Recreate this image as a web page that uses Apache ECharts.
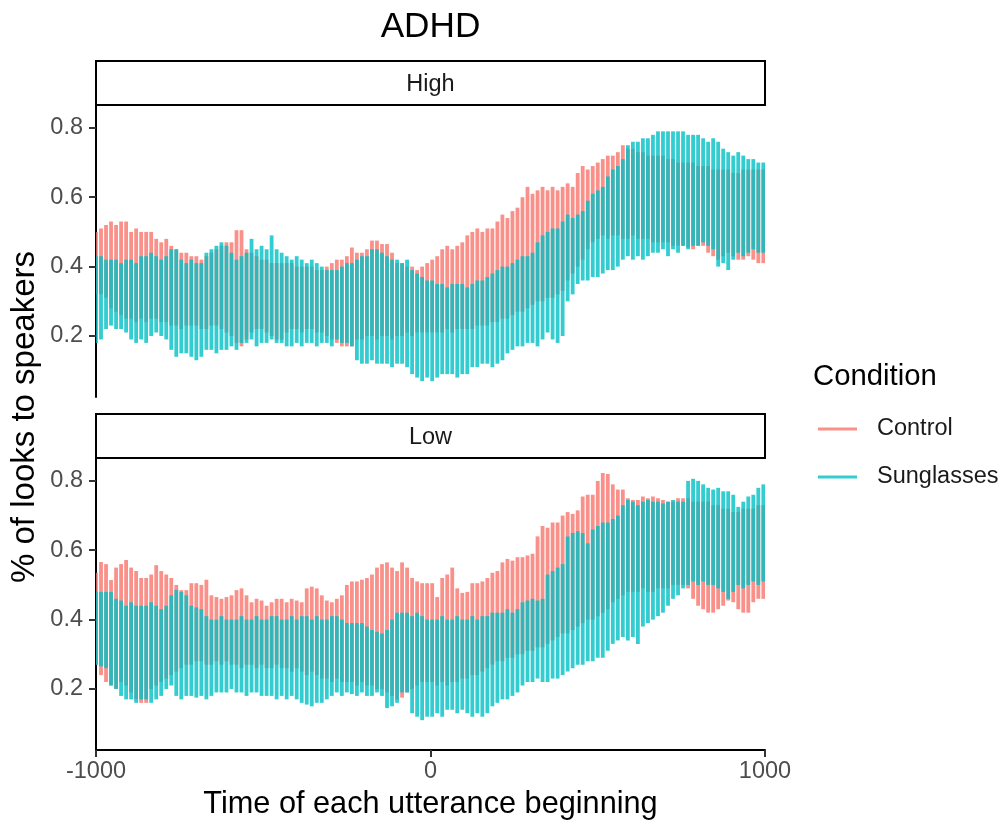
<!DOCTYPE html>
<html>
<head>
<meta charset="utf-8">
<script src="https://cdn.jsdelivr.net/npm/echarts@6/dist/echarts.min.js"></script>
<style>html,body{margin:0;padding:0;background:#fff;}#chart{width:1007px;height:825px;}</style>
</head>
<body>
<div id="chart"></div>
<script>
// time bins (ms) relative to utterance beginning
const times = [-1000,-985,-970,-955,-940,-925,-910,-895,-880,-865,
-850,-835,-820,-805,-790,-775,-760,-745,-730,-715,
-700,-685,-670,-655,-640,-625,-610,-595,-580,-565,
-550,-535,-520,-505,-490,-475,-460,-445,-430,-415,
-400,-385,-370,-355,-340,-325,-310,-295,-280,-265,
-250,-235,-220,-205,-190,-175,-160,-145,-130,-115,
-100,-85,-70,-55,-40,-25,-10,5,20,35,
50,65,80,95,110,125,140,155,170,185,
200,215,230,245,260,275,290,305,320,335,
350,365,380,395,410,425,440,455,470,485,
500,515,530,545,560,575,590,605,620,635,
650,665,680,695,710,725,740,755,770,785,
800,815,830,845,860,875,890,905,920,935,
950,965,980,995];

const facets = ['High', 'Low'];
const conditions = ['Control', 'Sunglasses'];

// High panel
const highControlUpper = [0.50,0.51,0.52,0.53,0.52,0.53,0.53,0.50,0.51,0.50,
0.50,0.50,0.48,0.47,0.48,0.46,0.45,0.44,0.44,0.43,
0.43,0.42,0.43,0.44,0.45,0.46,0.47,0.47,0.505,0.505,
0.45,0.44,0.43,0.42,0.42,0.41,0.41,0.41,0.41,0.41,
0.40,0.40,0.40,0.40,0.39,0.39,0.40,0.41,0.42,0.42,
0.43,0.455,0.44,0.44,0.45,0.475,0.475,0.465,0.465,0.44,
0.41,0.41,0.40,0.40,0.39,0.40,0.41,0.42,0.43,0.45,
0.46,0.45,0.46,0.47,0.49,0.50,0.51,0.50,0.51,0.51,
0.53,0.55,0.54,0.56,0.57,0.60,0.63,0.61,0.62,0.63,
0.62,0.63,0.62,0.63,0.64,0.63,0.67,0.69,0.68,0.69,
0.70,0.71,0.72,0.72,0.73,0.75,0.74,0.74,0.73,0.73,
0.72,0.72,0.72,0.72,0.71,0.71,0.70,0.70,0.70,0.70,
0.69,0.69,0.69,0.68,0.68,0.68,0.68,0.67,0.67,0.68,
0.68,0.68,0.68,0.68];
const highControlLower = [0.32,0.32,0.31,0.28,0.27,0.26,0.25,0.25,0.24,0.25,
0.24,0.25,0.25,0.24,0.24,0.23,0.23,0.22,0.23,0.23,
0.23,0.22,0.22,0.23,0.23,0.22,0.21,0.20,0.18,0.17,
0.19,0.21,0.22,0.22,0.21,0.20,0.19,0.19,0.21,0.22,
0.22,0.21,0.22,0.22,0.21,0.21,0.20,0.19,0.18,0.17,
0.17,0.17,0.19,0.19,0.20,0.20,0.19,0.20,0.20,0.19,
0.20,0.20,0.21,0.20,0.21,0.21,0.21,0.21,0.21,0.21,
0.22,0.21,0.22,0.22,0.22,0.22,0.23,0.23,0.23,0.24,
0.24,0.25,0.25,0.26,0.27,0.27,0.28,0.29,0.30,0.30,
0.31,0.31,0.32,0.33,0.36,0.38,0.40,0.42,0.45,0.47,
0.48,0.49,0.48,0.49,0.49,0.48,0.48,0.49,0.48,0.48,
0.48,0.47,0.47,0.47,0.47,0.46,0.46,0.46,0.455,0.45,
0.46,0.46,0.44,0.43,0.42,0.43,0.44,0.43,0.42,0.42,
0.43,0.42,0.41,0.41];
const highSungUpper = [0.43,0.43,0.42,0.42,0.42,0.41,0.42,0.42,0.41,0.43,
0.43,0.44,0.43,0.42,0.43,0.45,0.45,0.42,0.41,0.42,
0.41,0.41,0.44,0.45,0.46,0.47,0.46,0.44,0.42,0.43,
0.44,0.48,0.45,0.46,0.45,0.49,0.45,0.44,0.43,0.42,
0.43,0.42,0.41,0.42,0.41,0.40,0.39,0.39,0.39,0.40,
0.41,0.41,0.42,0.43,0.43,0.45,0.45,0.44,0.43,0.42,
0.42,0.41,0.42,0.39,0.38,0.37,0.36,0.36,0.35,0.35,
0.34,0.35,0.35,0.35,0.34,0.35,0.36,0.36,0.37,0.38,
0.39,0.40,0.40,0.41,0.42,0.43,0.43,0.44,0.47,0.49,
0.50,0.51,0.51,0.53,0.55,0.54,0.55,0.56,0.59,0.61,
0.62,0.63,0.66,0.68,0.69,0.71,0.75,0.76,0.76,0.77,
0.77,0.78,0.79,0.79,0.79,0.79,0.79,0.79,0.78,0.78,
0.78,0.77,0.76,0.77,0.76,0.74,0.73,0.72,0.73,0.72,
0.71,0.71,0.70,0.70];
const highSungLower = [0.18,0.19,0.22,0.23,0.22,0.22,0.21,0.19,0.18,0.19,
0.18,0.20,0.21,0.20,0.19,0.16,0.14,0.15,0.15,0.14,
0.13,0.14,0.16,0.16,0.15,0.16,0.16,0.17,0.16,0.18,
0.18,0.19,0.17,0.18,0.18,0.19,0.18,0.18,0.17,0.17,
0.18,0.17,0.18,0.18,0.17,0.18,0.18,0.17,0.19,0.18,
0.18,0.17,0.13,0.12,0.12,0.13,0.12,0.12,0.12,0.11,
0.12,0.12,0.11,0.09,0.08,0.07,0.08,0.07,0.08,0.09,
0.09,0.09,0.08,0.09,0.09,0.11,0.11,0.12,0.12,0.11,
0.12,0.13,0.15,0.16,0.17,0.17,0.18,0.18,0.17,0.19,
0.21,0.19,0.18,0.20,0.30,0.32,0.35,0.36,0.36,0.37,
0.37,0.38,0.39,0.39,0.40,0.42,0.43,0.42,0.43,0.42,
0.43,0.44,0.44,0.45,0.43,0.45,0.44,0.46,0.45,0.46,
0.46,0.47,0.46,0.45,0.40,0.41,0.39,0.42,0.44,0.43,
0.44,0.45,0.44,0.44];

// Low panel
const lowControlUpper = [0.535,0.566,0.56,0.514,0.55,0.56,0.572,0.55,0.54,0.52,
0.52,0.53,0.557,0.54,0.53,0.52,0.50,0.485,0.485,0.505,
0.505,0.50,0.515,0.47,0.465,0.46,0.465,0.47,0.485,0.49,
0.47,0.45,0.46,0.455,0.44,0.45,0.46,0.46,0.45,0.46,
0.455,0.45,0.49,0.495,0.49,0.47,0.455,0.45,0.46,0.47,
0.50,0.51,0.51,0.515,0.52,0.53,0.55,0.56,0.565,0.55,
0.54,0.565,0.55,0.52,0.51,0.505,0.505,0.505,0.465,0.52,
0.53,0.55,0.49,0.477,0.48,0.505,0.505,0.51,0.52,0.535,
0.54,0.565,0.575,0.57,0.58,0.58,0.585,0.59,0.64,0.67,
0.665,0.68,0.68,0.70,0.71,0.705,0.715,0.755,0.76,0.76,
0.80,0.823,0.82,0.79,0.775,0.775,0.75,0.745,0.745,0.755,
0.75,0.755,0.75,0.745,0.74,0.74,0.75,0.75,0.75,0.74,
0.74,0.74,0.74,0.73,0.73,0.72,0.72,0.71,0.71,0.72,
0.72,0.72,0.73,0.73];
const lowControlLower = [0.27,0.24,0.22,0.21,0.20,0.22,0.21,0.19,0.17,0.16,
0.16,0.20,0.21,0.22,0.23,0.24,0.25,0.26,0.27,0.27,
0.28,0.28,0.27,0.27,0.28,0.27,0.28,0.27,0.27,0.26,
0.27,0.27,0.26,0.27,0.26,0.26,0.27,0.26,0.26,0.25,
0.26,0.25,0.24,0.25,0.24,0.23,0.23,0.22,0.23,0.22,
0.22,0.22,0.21,0.22,0.21,0.21,0.20,0.20,0.19,0.18,
0.17,0.175,0.19,0.20,0.21,0.22,0.22,0.22,0.21,0.22,
0.21,0.22,0.22,0.23,0.23,0.24,0.24,0.25,0.26,0.27,
0.28,0.28,0.29,0.29,0.30,0.30,0.31,0.31,0.32,0.32,
0.33,0.34,0.35,0.36,0.36,0.37,0.38,0.39,0.40,0.40,
0.41,0.42,0.43,0.45,0.46,0.47,0.48,0.48,0.48,0.49,
0.48,0.48,0.49,0.49,0.49,0.50,0.50,0.50,0.49,0.46,
0.44,0.43,0.42,0.42,0.43,0.44,0.455,0.45,0.43,0.42,
0.42,0.45,0.46,0.46];
const lowSungUpper = [0.48,0.48,0.48,0.48,0.46,0.455,0.44,0.45,0.44,0.44,
0.44,0.45,0.44,0.43,0.44,0.47,0.486,0.48,0.47,0.44,
0.435,0.43,0.41,0.40,0.40,0.41,0.40,0.40,0.40,0.41,
0.40,0.40,0.41,0.40,0.40,0.41,0.41,0.40,0.40,0.41,
0.40,0.41,0.41,0.40,0.41,0.40,0.40,0.41,0.41,0.40,
0.39,0.39,0.39,0.39,0.38,0.37,0.365,0.36,0.37,0.40,
0.42,0.42,0.42,0.41,0.42,0.41,0.40,0.40,0.40,0.41,
0.40,0.40,0.41,0.40,0.40,0.41,0.40,0.41,0.41,0.42,
0.42,0.42,0.43,0.42,0.43,0.45,0.455,0.46,0.455,0.46,
0.53,0.54,0.55,0.56,0.64,0.65,0.655,0.65,0.62,0.66,
0.67,0.68,0.68,0.69,0.70,0.73,0.745,0.74,0.73,0.74,
0.745,0.74,0.74,0.735,0.74,0.745,0.74,0.74,0.80,0.806,
0.80,0.79,0.78,0.775,0.78,0.77,0.77,0.76,0.725,0.74,
0.755,0.76,0.78,0.79];
const lowSungLower = [0.27,0.265,0.26,0.21,0.20,0.18,0.17,0.17,0.16,0.17,
0.17,0.16,0.17,0.18,0.20,0.21,0.18,0.17,0.18,0.18,
0.175,0.18,0.17,0.18,0.19,0.19,0.19,0.20,0.19,0.19,
0.18,0.19,0.19,0.18,0.18,0.18,0.17,0.18,0.17,0.18,
0.17,0.16,0.155,0.15,0.16,0.16,0.17,0.18,0.19,0.18,
0.19,0.185,0.18,0.19,0.18,0.18,0.19,0.18,0.145,0.15,
0.16,0.19,0.19,0.13,0.12,0.11,0.12,0.12,0.13,0.12,
0.14,0.14,0.13,0.14,0.13,0.12,0.13,0.12,0.13,0.15,
0.16,0.17,0.17,0.18,0.19,0.21,0.22,0.22,0.23,0.22,
0.22,0.23,0.23,0.24,0.25,0.26,0.27,0.27,0.28,0.28,
0.29,0.29,0.31,0.33,0.34,0.35,0.34,0.35,0.33,0.38,
0.39,0.40,0.41,0.42,0.44,0.46,0.47,0.49,0.50,0.51,
0.50,0.51,0.50,0.50,0.49,0.48,0.46,0.48,0.50,0.49,
0.50,0.51,0.50,0.51];

const xTicks = [-1000, 0, 1000];
const yTicks = [0.2, 0.4, 0.6, 0.8];

const FONT = "'Liberation Sans', Arial, Helvetica, sans-serif";
const colors = { Control: 'rgba(248,118,109,0.8)', Sunglasses: 'rgba(0,191,196,0.8)' };

function toRows(lo, hi) {
  return times.map((t, i) => [t, lo[i], hi[i]]);
}

function renderRange(params, api) {
  const t = api.value(0);
  const p1 = api.coord([t, api.value(1)]);
  const p2 = api.coord([t, api.value(2)]);
  return {
    type: 'line',
    shape: { x1: p1[0], y1: p1[1], x2: p2[0], y2: p2[1] },
    style: { stroke: api.visual('color'), lineWidth: 3.8, lineCap: 'butt' }
  };
}

const panelData = {
  High: { Control: toRows(highControlLower, highControlUpper), Sunglasses: toRows(highSungLower, highSungUpper) },
  Low: { Control: toRows(lowControlLower, lowControlUpper), Sunglasses: toRows(lowSungLower, lowSungUpper) }
};

const grids = [
  { left: 96, top: 105, width: 669, height: 292 },
  { left: 96, top: 458, width: 669, height: 292 }
];

const xAxes = grids.map((g, i) => ({
  type: 'value', gridIndex: i, min: -1000, max: 1000, interval: 1000,
  show: i === 1,
  name: i === 1 ? 'Time of each utterance beginning' : '',
  nameLocation: 'middle', nameGap: 39,
  nameTextStyle: { fontSize: 30.7, color: '#000', fontFamily: FONT },
  axisLine: { show: true, onZero: false, lineStyle: { color: '#000', width: 2 } },
  axisTick: { show: true, length: 7, customValues: xTicks, lineStyle: { color: '#333', width: 2 } },
  axisLabel: { fontSize: 23.5, color: '#4D4D4D', fontFamily: FONT, margin: 10, customValues: xTicks,
    formatter: v => String(v) },
  splitLine: { show: false }
}));

const yAxes = grids.map((g, i) => ({
  type: 'value', gridIndex: i, min: 0.024, max: 0.866,
  axisLine: { show: true, onZero: false, lineStyle: { color: '#000', width: 2 } },
  axisTick: { show: true, length: 7, customValues: yTicks, lineStyle: { color: '#333', width: 2 } },
  axisLabel: { fontSize: 23.5, color: '#4D4D4D', fontFamily: FONT, margin: 13, customValues: yTicks,
    formatter: v => v.toFixed(1) },
  splitLine: { show: false }
}));

const series = [];
facets.forEach((f, i) => {
  conditions.forEach(c => {
    series.push({
      type: 'custom', name: c, xAxisIndex: i, yAxisIndex: i,
      renderItem: renderRange, clip: true,
      itemStyle: { color: colors[c] },
      encode: { x: 0, y: [1, 2] },
      data: panelData[f][c],
      silent: true, animation: false
    });
  });
});

const stripTop = [61, 414];
const graphics = [];
facets.forEach((f, i) => {
  graphics.push({ type: 'rect', shape: { x: 96, y: stripTop[i], width: 669, height: 44 },
    style: { fill: '#fff', stroke: '#000', lineWidth: 2 }, z: 10 });
  graphics.push({ type: 'text', x: 430.5, y: stripTop[i] + 24, z: 11,
    style: { text: f, fontSize: 23.5, fill: '#1A1A1A', fontFamily: FONT, textAlign: 'center', textVerticalAlign: 'middle' } });
});
graphics.push({ type: 'text', x: 430.5, y: 27, style: { text: 'ADHD', fontSize: 35.2, fill: '#000', fontFamily: FONT, textAlign: 'center', textVerticalAlign: 'middle' } });
graphics.push({ type: 'text', x: 25, y: 417, rotation: Math.PI / 2,
  style: { text: '% of looks to speakers', fontSize: 33, fill: '#000', fontFamily: FONT, textAlign: 'center', textVerticalAlign: 'middle' } });
graphics.push({ type: 'text', x: 813, y: 377, style: { text: 'Condition', fontSize: 29.3, fill: '#000', fontFamily: FONT, textAlign: 'left', textVerticalAlign: 'middle' } });

const chart = echarts.init(document.getElementById('chart'), null, { renderer: 'canvas' });
chart.setOption({
  animation: false,
  backgroundColor: '#fff',
  grid: grids,
  xAxis: xAxes,
  yAxis: yAxes,
  legend: {
    data: conditions, orient: 'vertical', left: 813, top: 412, itemGap: 24,
    icon: 'rect', itemWidth: 39, itemHeight: 3,
    textStyle: { fontSize: 23.5, color: '#1A1A1A', fontFamily: FONT, lineHeight: 24, padding: [0, 0, 0, 15] },
    selectedMode: false
  },
  graphic: graphics,
  series: series
});
</script>
</body>
</html>
